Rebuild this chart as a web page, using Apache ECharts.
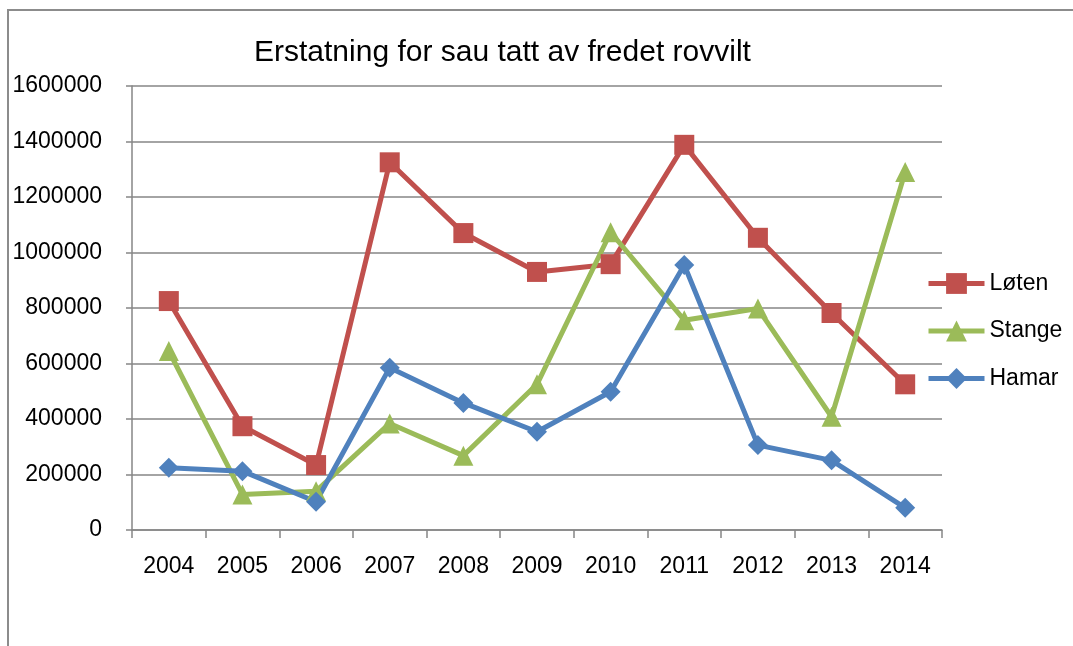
<!DOCTYPE html>
<html>
<head>
<meta charset="utf-8">
<script src="https://cdn.jsdelivr.net/npm/echarts@6/dist/echarts.min.js"></script>
<style>
    html, body { margin: 0; padding: 0; background: #fff; }
    #chart { width: 1073px; height: 646px; }
</style>
</head>
<body>
<div id="chart"></div>
<script>
// categories and values
let years = ["2004", "2005", "2006", "2007", "2008", "2009", "2010", "2011", "2012", "2013", "2014"];
let loten = [825000, 374000, 234000, 1325000, 1070000, 930000, 958000, 1388000, 1053000, 782000, 525000];
let stange = [645000, 128000, 140000, 384000, 268000, 525000, 1073000, 756000, 798000, 408000, 1290000];
let hamar = [224000, 212000, 102000, 585000, 458000, 354000, 498000, 955000, 306000, 251000, 80000];
let seriesNames = ["Løten", "Stange", "Hamar"];

let fontFamily = "'Liberation Sans', Arial, sans-serif";
let gray = "#868686";

let chart = echarts.init(document.getElementById("chart"));

function lineSeries(name, data, color, symbol, size) {
    return {
        name: name,
        type: "line",
        data: data,
        symbol: symbol,
        symbolSize: size,
        showAllSymbol: true,
        lineStyle: { color: color, width: 5 },
        itemStyle: { color: color },
        emphasis: { disabled: true },
        animation: false
    };
}

let option = {
    backgroundColor: "#fff",
    animation: false,
    title: {
        text: "Erstatning for sau tatt av fredet rovvilt",
        left: 249,
        top: 33,
        textStyle: {
            fontFamily: fontFamily,
            fontWeight: "normal",
            fontSize: 30,
            color: "#000"
        }
    },
    graphic: [
        {
            type: "rect",
            shape: { x: 8, y: 10, width: 1200, height: 800 },
            style: { fill: "none", stroke: "#8c8c8c", lineWidth: 2 },
            silent: true
        }
    ],
    legend: {
        orient: "vertical",
        left: 926,
        top: 272,
        padding: 0,
        itemWidth: 56,
        itemHeight: 26,
        itemGap: 24.5,
        data: seriesNames,
        lineStyle: { width: 5 },
        textStyle: {
            fontFamily: fontFamily,
            fontSize: 23,
            color: "#000"
        }
    },
    grid: {
        left: 132,
        right: 131,
        top: 86,
        bottom: 116
    },
    xAxis: {
        type: "category",
        data: years,
        boundaryGap: true,
        axisLine: { show: true, lineStyle: { color: gray, width: 1.5 } },
        axisTick: { show: true, length: 8, lineStyle: { color: gray, width: 1.5 } },
        axisLabel: {
            margin: 25,
            fontFamily: fontFamily,
            fontSize: 23,
            color: "#000"
        },
        splitLine: { show: false }
    },
    yAxis: {
        type: "value",
        min: 0,
        max: 1600000,
        interval: 200000,
        axisLine: { show: true, lineStyle: { color: gray, width: 1.5 } },
        axisTick: { show: true, length: 6, lineStyle: { color: gray, width: 1.5 } },
        axisLabel: {
            margin: 30,
            fontFamily: fontFamily,
            fontSize: 23,
            color: "#000",
            formatter: function(value) {
                return String(value);
            }
        },
        splitLine: { show: true, lineStyle: { color: gray, width: 1.5 } }
    },
    series: [
        lineSeries(seriesNames[0], loten, "#C0504D", "rect", 20),
        lineSeries(seriesNames[1], stange, "#9BBB59", "triangle", 20),
        lineSeries(seriesNames[2], hamar, "#4F81BD", "diamond", 20)
    ]
};

chart.setOption(option, true);
</script>
</body>
</html>
